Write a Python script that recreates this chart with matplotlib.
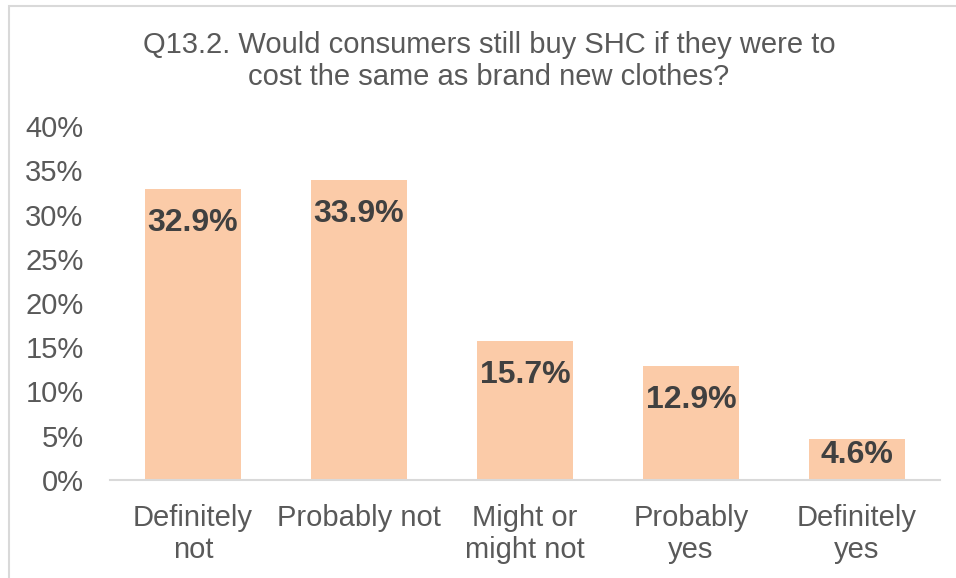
import matplotlib
matplotlib.use("Agg")
import matplotlib.pyplot as plt
from matplotlib.patches import Rectangle

plt.rcParams['font.family'] = ['Liberation Sans', 'DejaVu Sans']

categories = ["Definitely\nnot", "Probably not", "Might or\nmight not", "Probably\nyes", "Definitely\nyes"]
values = [32.9, 33.9, 15.7, 12.9, 4.6]
value_labels = ["32.9%", "33.9%", "15.7%", "12.9%", "4.6%"]
yticks = [0, 5, 10, 15, 20, 25, 30, 35, 40]
ytick_labels = ["0%", "5%", "10%", "15%", "20%", "25%", "30%", "35%", "40%"]
title = "Q13.2. Would consumers still buy SHC if they were to\ncost the same as brand new clothes?"

W, H = 956, 578
fig = plt.figure(figsize=(W / 100, H / 100), dpi=100)
fig.patch.set_facecolor("white")

# outer chart border
fig.patches.append(Rectangle((9 / W, -0.01), 1.0, 1 - 6 / H + 0.01, transform=fig.transFigure,
                             fill=False, edgecolor="#D9D9D9", linewidth=1.5))

ax = fig.add_axes([110 / W, 1 - 480 / H, 830 / W, 354 / H])
x = list(range(len(categories)))
bars = ax.bar(x, values, width=0.584, color="#FBCBA8", zorder=2)

ax.set_xlim(-0.5, len(categories) - 0.5)
ax.set_ylim(0, 40)
ax.set_yticks(yticks)
ax.set_yticklabels(ytick_labels, fontsize=21, color="#595959")
ax.set_xticks(x)
ax.set_xticklabels(categories, fontsize=21, color="#595959", linespacing=1.19)
ax.tick_params(axis="y", length=0, pad=19)
ax.tick_params(axis="x", length=0, pad=17)
for s in ["top", "right", "left"]:
    ax.spines[s].set_visible(False)
ax.spines["bottom"].set_color("#D9D9D9")
ax.spines["bottom"].set_linewidth(1.5)
ax.spines["bottom"].set_zorder(3)

for xi, v, lab in zip(x, values, value_labels):
    off = -14 if v > 8 else -0.5
    ax.annotate(lab, (xi, v), xytext=(0, off), textcoords="offset points",
                ha="center", va="top", fontsize=23, fontweight="bold", color="#404040")

fig.text(489 / W, 1 - 61 / H, title, ha="center", va="center", fontsize=21,
         color="#595959", linespacing=1.19)

fig.savefig("out.png", dpi=100, facecolor="white")
